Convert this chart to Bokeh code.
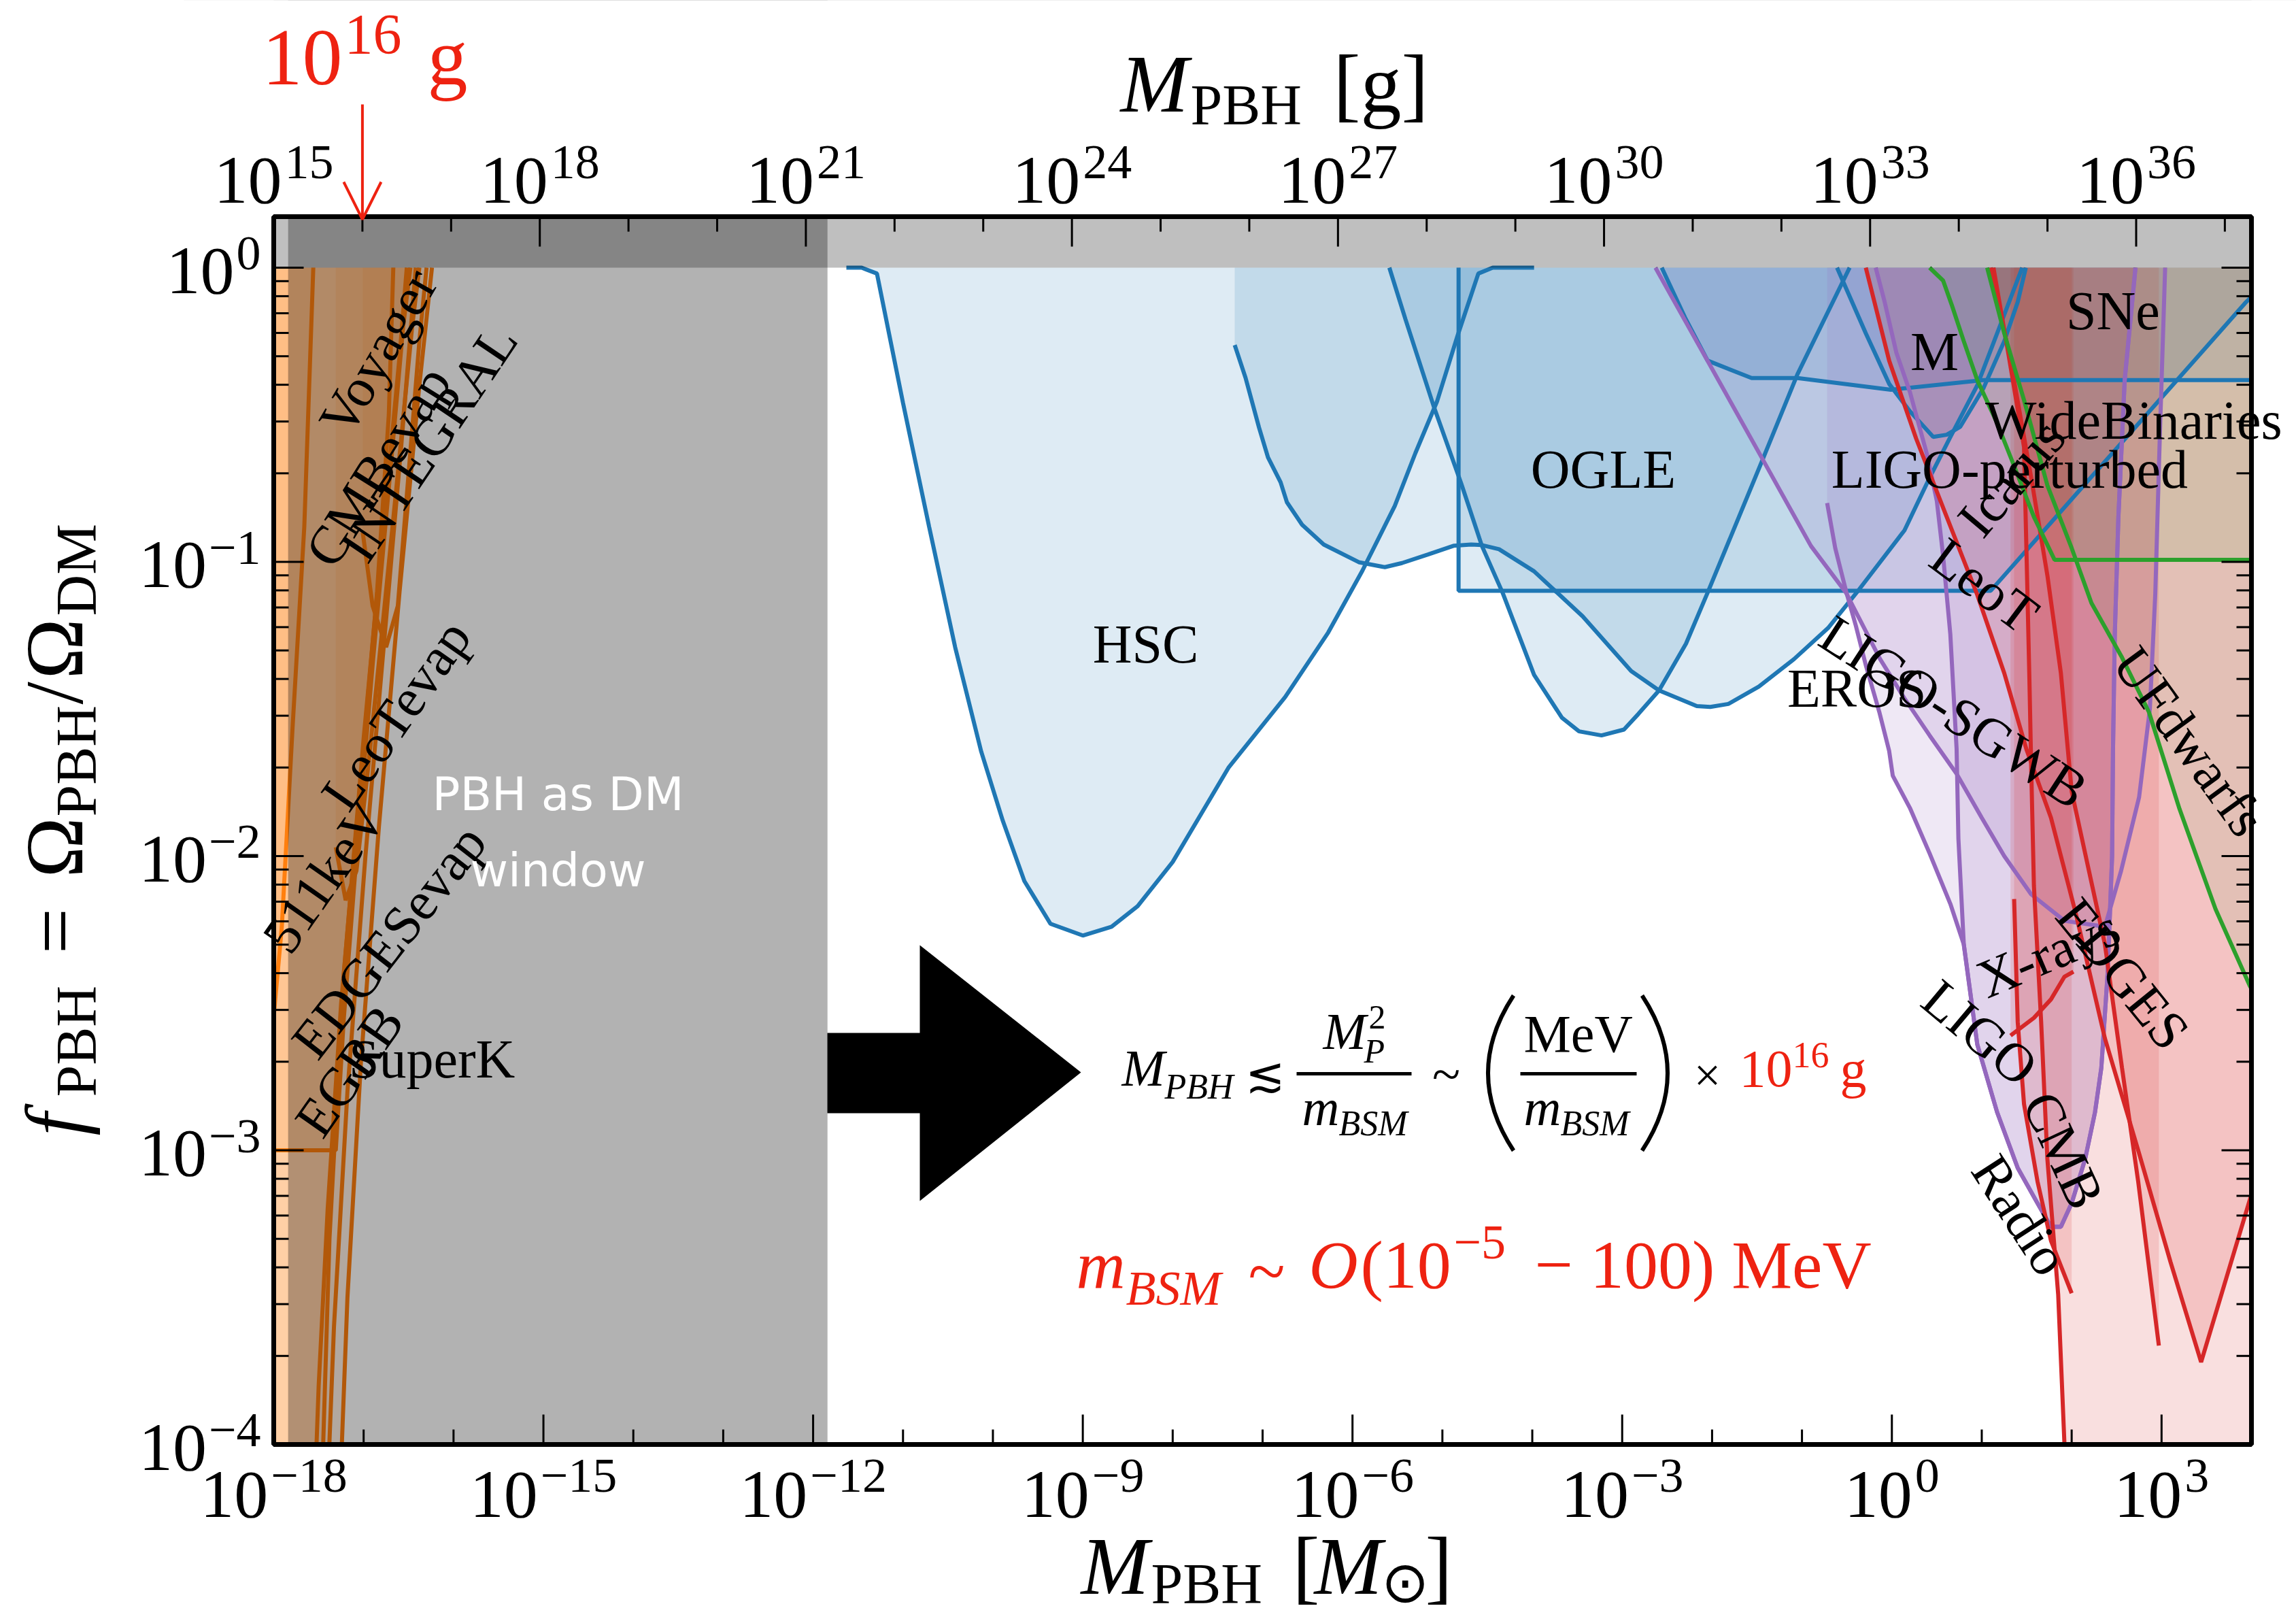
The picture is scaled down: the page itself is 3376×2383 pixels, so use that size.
import numpy as np
from bokeh.plotting import figure
from bokeh.models import Range1d, LogScale, Label, Arrow, OpenHead
from bokeh.embed import file_html
from bokeh.resources import INLINE

# ------------------------------------------------------------------
# Axis ranges of the plotting box (log10 values)
LOGM_MIN, LOGM_MAX = -18.0, 4.0        # M_PBH / M_sun (bottom axis)
LOGF_MIN, LOGF_MAX = -4.0, 0.1734      # f_PBH
LOGG_MIN, LOGG_MAX = 15.0, 37.30       # M_PBH in grams (top axis)

X_MAJOR = [-18, -15, -12, -9, -6, -3, 0, 3]
G_MAJOR = [15, 18, 21, 24, 27, 30, 33, 36]
Y_MAJOR = [0, -1, -2, -3, -4]

# shaded "PBH as DM" window, log10(M/Msun)
WINDOW_LO, WINDOW_HI = -17.84, -11.84

# ------------------------------------------------------------------
# Constraint curves: log10(M/Msun) and log10(f_PBH); region above is excluded
# evaporation
E511_M = [-18.5, -18.05, -17.99, -17.91, -17.79, -17.66, -17.56]
E511_F = [-3.1, -2.72, -2.51, -2.24, -1.56, -0.88, 0.0]
SUPERK_M = [-18.5, -17.56, -17.5, -17.4, -17.25, -17.05, -16.85, -16.72, -16.67]
SUPERK_F = [-4.3, -4.3, -3.8, -3.2, -2.5, -1.8, -1.1, -0.5, 0.0]
EDGESEV_M = [-18.5, -17.42, -17.33, -17.18, -16.98, -16.78, -16.58, -16.42]
EDGESEV_F = [-4.3, -4.3, -3.6, -2.8, -2.0, -1.3, -0.6, 0.0]
VOYAGER_M = [-18.5, -17.28, -17.18, -17.03, -16.83, -16.6, -16.38, -16.24]
VOYAGER_F = [-4.3, -4.3, -3.5, -2.7, -1.9, -1.1, -0.4, 0.0]
CMBEV_M = [-18.5, -17.48, -17.38, -17.22, -17.0, -16.8, -16.6, -16.52]
CMBEV_F = [-4.3, -4.3, -3.3, -2.4, -1.6, -0.95, -0.3, 0.0]
EGRB_M = [-18.5, -17.31, -17.22, -17.08, -16.9, -16.72, -16.56, -16.48]
EGRB_F = [-3.0, -3.0, -2.55, -2.0, -1.35, -0.75, -0.2, 0.0]
INTEGRAL_M = [-17.01, -16.9, -16.75, -16.62, -16.5, -16.38, -16.3]
INTEGRAL_F = [-0.9, -1.15, -1.29, -1.15, -0.7, -0.25, 0.0]
LEOTEV_M = [-17.31, -17.2, -17.08, -16.95, -16.8, -16.62, -16.46, -16.38]
LEOTEV_F = [-1.97, -2.15, -2.05, -1.7, -1.25, -0.7, -0.2, 0.0]

# microlensing
HSC_M = [-11.63, -11.46, -11.29, -11.00, -10.71, -10.42, -10.13, -9.89, -9.65, -9.36, -9.00, -8.68,
         -8.39, -8.00, -7.38, -6.75, -6.27, -5.89, -5.53, -5.30, -5.06, -4.83, -4.60, -4.44, -3.98]
HSC_F = [0.00, 0.00, -0.02, -0.46, -0.88, -1.29, -1.645, -1.88, -2.085, -2.23, -2.27, -2.24,
         -2.17, -2.02, -1.70, -1.46, -1.24, -1.03, -0.81, -0.63, -0.455, -0.23, -0.02, 0.00, 0.00]
EROS_M = [-7.31, -7.19, -7.04, -6.94, -6.80, -6.73, -6.56, -6.32, -5.93, -5.64, -5.45, -5.16, -4.87,
          -4.68, -4.56, -4.37, -3.98, -3.44, -2.90, -2.59, -2.17, -2.02, -1.82, -1.48, -1.09, -0.71,
          -0.36, 0.14, 0.42, 0.64, 0.95, 1.20, 1.45]
EROS_F = [-0.263, -0.374, -0.543, -0.645, -0.729, -0.797, -0.874, -0.941, -1.001, -1.018, -1.004,
          -0.975, -0.945, -0.941, -0.943, -0.957, -1.032, -1.185, -1.371, -1.437, -1.490, -1.493,
          -1.483, -1.424, -1.331, -1.225, -1.092, -0.893, -0.714, -0.582, -0.40, -0.20, 0.00]
OGLE_M = [-5.59, -5.41, -5.10, -4.79, -4.56, -4.33, -3.98, -3.67, -3.48, -3.23, -2.98, -2.82, -2.59,
          -2.29, -2.05, -1.44, -1.05, -0.47]
OGLE_F = [0.00, -0.176, -0.468, -0.734, -0.946, -1.105, -1.384, -1.530, -1.576, -1.590, -1.570,
          -1.517, -1.437, -1.278, -1.105, -0.654, -0.362, 0.00]
ICARUS_M = [-4.82, -4.82, 1.10, 3.94, 4.30]
ICARUS_F = [0.00, -1.098, -1.098, -0.117, -0.01]
SNE_M = [-2.56, -2.30, -2.05, -1.56, -1.05, -0.01, 1.02, 4.30]
SNE_F = [0.00, -0.17, -0.316, -0.375, -0.375, -0.415, -0.382, -0.382]
MACHO_M = [-0.61, -0.29, -0.03, 0.20, 0.46, 0.61, 0.76, 1.02, 1.25, 1.40, 1.49]
MACHO_F = [0.00, -0.223, -0.395, -0.488, -0.575, -0.568, -0.541, -0.409, -0.25, -0.117, 0.00]

# gravitational waves
SGWB_M = [-2.63, -1.48, -0.90, -0.51, -0.13, 0.14, 0.42, 0.72, 1.00, 1.25, 1.55, 1.92, 2.37, 2.55,
          2.75, 2.87, 2.93, 2.98, 3.04]
SGWB_F = [0.00, -0.628, -0.946, -1.105, -1.331, -1.464, -1.59, -1.72, -1.87, -2.00, -2.13, -2.22,
          -2.24, -2.05, -1.80, -1.50, -1.11, -0.58, 0.00]
LIGOP_M = [-0.72, -0.63, -0.51, -0.40, -0.29, -0.14, -0.03, 0.01, 0.20, 0.42, 0.65, 0.80, 0.95, 1.17,
           1.40, 1.62, 1.77, 1.88, 2.00, 2.15, 2.26, 2.33, 2.40, 2.45, 2.46, 2.48, 2.52, 2.59, 2.71]
LIGOP_F = [-0.80, -0.953, -1.099, -1.218, -1.351, -1.51, -1.643, -1.727, -1.836, -1.991, -2.162,
           -2.30, -2.64, -2.87, -3.06, -3.18, -3.26, -3.26, -3.18, -3.03, -2.87, -2.72, -2.40, -2.00,
           -1.635, -1.245, -0.847, -0.382, 0.00]
LIGO_M = [-0.18, -0.08, 0.05, 0.20, 0.39, 0.50, 0.57, 0.65, 0.72, 0.74, 0.80, 0.95, 1.17, 1.40, 1.62,
          1.77, 1.88, 2.00, 2.15, 2.26, 2.33, 2.40, 2.45, 2.46, 2.48, 2.52, 2.59, 2.71]
LIGO_F = [0.00, -0.117, -0.289, -0.422, -0.634, -0.793, -0.979, -1.245, -1.635, -1.94, -2.30, -2.64,
          -2.87, -3.06, -3.18, -3.26, -3.26, -3.18, -3.03, -2.87, -2.72, -2.40, -2.00, -1.635, -1.245,
          -0.847, -0.382, 0.00]

# accretion
LEOT_M = [-0.29, -0.03, 0.27, 0.61, 0.95, 1.25, 1.50, 1.77, 2.05, 2.37, 2.74, 3.10, 3.44, 3.98, 4.30]
LEOT_F = [0.00, -0.316, -0.581, -0.847, -1.112, -1.378, -1.64, -1.87, -2.20, -2.62, -3.00, -3.38,
          -3.72, -3.17, -2.85]
CMB_M = [1.13, 1.30, 1.47, 1.50, 1.53, 1.55, 1.58, 1.66, 1.73, 1.85, 1.92, 1.97, 4.30]
CMB_F = [0.00, -0.30, -0.61, -1.00, -1.40, -1.70, -2.10, -2.56, -3.03, -3.49, -4.00, -4.40, -4.40]
EDGES_M = [1.10, 1.32, 1.55, 1.73, 1.88, 2.00, 2.37, 2.56, 2.74, 2.97]
EDGES_F = [0.00, -0.316, -0.714, -1.046, -1.378, -1.78, -2.30, -2.72, -3.106, -3.664]
RADIO_M = [1.36, 1.40, 1.47, 1.62, 1.77, 2.00]
RADIO_F = [-2.146, -2.564, -2.843, -3.106, -3.308, -3.486]
XRAY_M = [1.32, 1.58, 1.77, 1.92, 2.02]
XRAY_F = [-2.61, -2.55, -2.487, -2.41, -2.393]

# dynamical
WB_M = [0.42, 0.57, 0.67, 0.80, 0.95, 1.17, 1.36, 1.58, 1.81, 4.30]
WB_F = [0.00, -0.044, -0.130, -0.25, -0.382, -0.528, -0.674, -0.847, -0.993, -0.993]
UFD_M = [1.06, 1.25, 1.47, 1.73, 2.00, 2.22, 2.56, 2.86, 3.20, 3.60, 3.98, 4.30]
UFD_F = [0.00, -0.223, -0.45, -0.74, -0.953, -1.14, -1.325, -1.511, -1.84, -2.18, -2.44, -2.62]

# labels: text, log10 M, log10 f, rotation (deg)
CONSTRAINT_LABELS = [
    ("Voyager", -16.84, -0.286, 60), ("CMBevap", -16.84, -0.675, 58),
    ("INTEGRAL", -16.28, -0.595, 56), ("LeoTevap", -16.64, -1.52, 55),
    ("511keV", -17.44, -2.07, 55), ("EDGESevap", -16.72, -2.29, 52),
    ("EGRB", -17.16, -2.73, 55), ("SuperK", -16.24, -2.69, 0),
    ("HSC", -8.30, -1.28, 0), ("OGLE", -3.21, -0.685, 0), ("EROS", -0.39, -1.43, 0),
    ("M", 0.475, -0.286, 0), ("LIGO-perturbed", 1.31, -0.685, 0), ("SNe", 2.46, -0.147, 0),
    ("WideBinaries", 2.69, -0.52, 0), ("Icarus", 1.33, -0.714, 50), ("LeoT", 1.03, -1.08, -37),
    ("LIGO-SGWB", 0.69, -1.51, -33), ("UFdwarfs", 3.31, -1.61, -54), ("X-rays", 1.74, -2.33, 23),
    ("EDGES", 2.57, -2.40, -51), ("LIGO", 0.98, -2.60, -40), ("CMB", 1.91, -3.0, -65),
    ("Radio", 1.43, -3.22, -57),
]

BLUE, ORANGE, GREEN, RED, PURPLE = "#1f77b4", "#ff7f0e", "#2ca02c", "#d62728", "#9467bd"
GROUPS = [
    (ORANGE, 0.11, [(E511_M, E511_F), (SUPERK_M, SUPERK_F), (EDGESEV_M, EDGESEV_F),
                    (VOYAGER_M, VOYAGER_F), (CMBEV_M, CMBEV_F), (EGRB_M, EGRB_F),
                    (INTEGRAL_M, INTEGRAL_F), (LEOTEV_M, LEOTEV_F)]),
    (BLUE, 0.15, [(HSC_M, HSC_F), (EROS_M, EROS_F), (OGLE_M, OGLE_F), (ICARUS_M, ICARUS_F),
                  (SNE_M, SNE_F), (MACHO_M, MACHO_F)]),
    (PURPLE, 0.15, [(SGWB_M, SGWB_F), (LIGOP_M, LIGOP_F), (LIGO_M, LIGO_F)]),
    (RED, 0.15, [(LEOT_M, LEOT_F), (CMB_M, CMB_F), (EDGES_M, EDGES_F), (RADIO_M, RADIO_F),
                 (XRAY_M, XRAY_F)]),
    (GREEN, 0.08, [(WB_M, WB_F), (UFD_M, UFD_F)]),
]

# ------------------------------------------------------------------
# Page geometry: the plotting box sits inside the canvas at these pixels
W, H = 3376, 2383
L, R, T, B = 402, 3310, 318, 2123
PX_X = (R - L) / (LOGM_MAX - LOGM_MIN)
PX_Y = (B - T) / (LOGF_MAX - LOGF_MIN)
PX_G = (R - L) / (LOGG_MAX - LOGG_MIN)
X_LEFT, X_RIGHT = LOGM_MIN - L / PX_X, LOGM_MAX + (W - R) / PX_X
Y_BOT, Y_TOP = LOGF_MIN - (H - B) / PX_Y, LOGF_MAX + T / PX_Y
G_LEFT, G_RIGHT = LOGG_MIN - L / PX_G, LOGG_MAX + (W - R) / PX_G

SERIF, SANS = "Liberation Serif", "DejaVu Sans"
RED_TXT = "#ee2211"

p = figure(width=W, height=H, x_axis_type="log", y_axis_type="log",
           x_range=Range1d(10 ** X_LEFT, 10 ** X_RIGHT),
           y_range=Range1d(10 ** Y_BOT, 10 ** Y_TOP),
           x_axis_location=None, y_axis_location=None,
           output_backend="svg", toolbar_location=None,
           min_border=0, min_border_left=0, min_border_right=0,
           min_border_top=0, min_border_bottom=0)
p.extra_x_ranges = {"grams": Range1d(10 ** G_LEFT, 10 ** G_RIGHT)}
p.extra_x_scales = {"grams": LogScale()}
p.xgrid.visible = False
p.ygrid.visible = False
p.outline_line_color = None
p.background_fill_color = "white"
p.border_fill_color = "white"

# constraint fills (closed along f = 1) and boundary curves
for color, alpha, curves in GROUPS:
    for lm, lf in curves:
        xs = list(lm) + [lm[-1], lm[0]]
        ys = list(lf) + [0.0, 0.0]
        p.patch(10.0 ** np.array(xs), 10.0 ** np.array(ys), fill_color=color,
                fill_alpha=alpha, line_color=None)
for color, alpha, curves in GROUPS:
    for lm, lf in curves:
        p.line(10.0 ** np.array(lm), 10.0 ** np.array(lf), line_color=color, line_width=6)

# PBH-as-DM window and the f > 1 band
p.quad(left=10 ** WINDOW_LO, right=10 ** WINDOW_HI, bottom=1e-5, top=10.0,
       fill_color="black", fill_alpha=0.30, line_color=None)
p.quad(left=1e-19, right=1e5, bottom=1.0, top=10.0,
       fill_color="black", fill_alpha=0.25, line_color=None)

# white margins around the plotting box
far_l, far_r, far_b, far_t = 10 ** (X_LEFT - 1), 10 ** (X_RIGHT + 1), 10 ** (Y_BOT - 1), 10 ** (Y_TOP + 1)
p.quad(left=[far_l, 10 ** LOGM_MAX, far_l, far_l],
       right=[10 ** LOGM_MIN, far_r, far_r, far_r],
       bottom=[far_b, far_b, far_b, 10 ** LOGF_MAX],
       top=[far_t, far_t, 10 ** LOGF_MIN, far_t],
       fill_color="white", line_color=None)

# box outline
p.quad(left=10 ** LOGM_MIN, right=10 ** LOGM_MAX, bottom=10 ** LOGF_MIN, top=10 ** LOGF_MAX,
       fill_color=None, line_color="black", line_width=7)

# inward ticks on all four sides
MAJ, MIN_ = 44, 22
bx_maj = [10.0 ** k for k in X_MAJOR]
bx_min = [10.0 ** k for k in range(-18, 5) if k not in X_MAJOR]
gx_maj = [10.0 ** k for k in G_MAJOR]
gx_min = [10.0 ** k for k in range(15, 38) if k not in G_MAJOR]
y_maj = [10.0 ** k for k in Y_MAJOR]
y_min = [m * 10.0 ** k for k in range(-4, 0) for m in range(2, 10)]
for ticks, ln in [(bx_maj, MAJ), (bx_min, MIN_)]:
    p.segment(x0=ticks, x1=ticks, y0=10 ** LOGF_MIN, y1=10 ** (LOGF_MIN + ln / PX_Y),
              line_color="black", line_width=3)
for ticks, ln in [(gx_maj, MAJ), (gx_min, MIN_)]:
    p.segment(x0=ticks, x1=ticks, y0=10 ** LOGF_MAX, y1=10 ** (LOGF_MAX - ln / PX_Y),
              line_color="black", line_width=3, x_range_name="grams")
for ticks, ln in [(y_maj, MAJ), (y_min, MIN_)]:
    p.segment(x0=10 ** LOGM_MIN, x1=10 ** (LOGM_MIN + ln / PX_X), y0=ticks, y1=ticks,
              line_color="black", line_width=3)
    p.segment(x0=10 ** LOGM_MAX, x1=10 ** (LOGM_MAX - ln / PX_X), y0=ticks, y1=ticks,
              line_color="black", line_width=3)


# ------------------------------------------------------------------
def to_data(cx, cy):
    lx = LOGM_MIN + (cx - L) / PX_X
    ly = LOGF_MAX - (cy - T) / PX_Y
    return 10.0 ** lx, 10.0 ** ly


BASE_SHIFT = 0.33   # alphabetic anchor sits this many em below the glyph baseline


def put(text, cx, cy, size, color="black", style="normal", align="left",
        baseline="alphabetic", angle=0, font=SERIF):
    if baseline == "alphabetic":
        th = np.radians(angle)
        cx -= BASE_SHIFT * size * np.sin(th)
        cy -= BASE_SHIFT * size * np.cos(th)
    x, y = to_data(cx, cy)
    p.add_layout(Label(x=x, y=y, text=text, text_font=font, text_font_size=f"{size}px",
                       text_color=color, text_font_style=style, text_align=align,
                       text_baseline=baseline, angle=angle, angle_units="deg"))


def num_width(s, size):
    return size * sum(0.564 if ch == "\u2212" else 0.5 for ch in s)


def sup(k):
    return str(k).replace("-", "\u2212")


# tick labels
for k in X_MAJOR:
    cx = L + (k - LOGM_MIN) * PX_X
    ex = sup(k)
    j = cx + (num_width("10", 100) - num_width(ex, 72)) / 2
    put("10", j - 2, 2230, 100, align="right")
    put(ex, j + 2, 2193, 72)
for k in G_MAJOR:
    cx = L + (k - LOGG_MIN) * PX_G
    ex = sup(k)
    j = cx + (num_width("10", 100) - num_width(ex, 72)) / 2
    put("10", j - 2, 298, 100, align="right")
    put(ex, j + 2, 262, 72)
for k in Y_MAJOR:
    cy = T + (LOGF_MAX - k) * PX_Y
    ex = sup(k)
    put(ex, L - 19, cy + 3, 72, align="right")
    put("10", L - 22 - num_width(ex, 72), cy + 38, 100, align="right")

# axis titles
put("M", 1589, 2342, 120, style="italic")
put("PBH", 1692, 2356, 84)
put("[", 1900, 2342, 120)
put("M", 1932, 2342, 120, style="italic")
put("\u2299", 2030, 2354, 84)
put("]", 2095, 2342, 120)

put("M", 1647, 163, 120, style="italic")
put("PBH", 1750, 182, 84)
put("[g]", 1960, 163, 120)

put("f", 120, 1669, 120, style="italic", angle=90)
put("PBH", 140, 1612, 84, angle=90)
put("=", 120, 1402, 120, angle=90)
put("\u03a9", 120, 1290, 120, angle=90)
put("PBH", 140, 1200, 84, angle=90)
put("/", 120, 1035, 120, angle=90)
put("\u03a9", 120, 998, 120, angle=90)
put("DM", 140, 905, 84, angle=90)

# constraint names
for text, lm, lf, ang in CONSTRAINT_LABELS:
    p.add_layout(Label(x=10.0 ** lm, y=10.0 ** lf, text=text, text_font=SERIF,
                       text_font_size="80px", text_color="black", text_align="center",
                       text_baseline="middle", angle=ang, angle_units="deg"))

# window caption
put("PBH as DM", 820, 1167, 68, color="white", align="center", baseline="middle", font=SANS)
put("window", 820, 1279, 68, color="white", align="center", baseline="middle", font=SANS)

# 10^16 g marker on the gram axis
gx = L + (16 - LOGG_MIN) * PX_G
put("10", 385, 123, 118, color=RED_TXT)
put("16", 506, 78, 84, color=RED_TXT)
put("g", 628, 123, 118, color=RED_TXT)
xs0, ys0 = to_data(gx, 153)
xs1, ys1 = to_data(gx, 322)
p.add_layout(Arrow(x_start=xs0, y_start=ys0, x_end=xs1, y_end=ys1, line_color=RED_TXT,
                   line_width=4, end=OpenHead(size=55, line_color=RED_TXT, line_width=4)))

# block arrow pointing into the mass range
arrow_px = [(1216, 1518), (1352, 1518), (1352, 1389), (1589, 1576), (1352, 1765), (1352, 1636),
            (1216, 1636)]
ax_, ay_ = zip(*[to_data(cx, cy) for cx, cy in arrow_px])
p.patch(list(ax_), list(ay_), fill_color="black", line_color=None)

# mass relation
put("M", 1649, 1595, 76, style="italic")
put("PBH", 1712, 1614, 52, style="italic")
put("\u2272", 1860, 1580, 70, align="center", baseline="middle")
put("M", 1945, 1541, 76, style="italic")
put("2", 2012, 1511, 50)
put("P", 2005, 1561, 50, style="italic")
put("m", 1914, 1653, 76, style="italic")
put("BSM", 1968, 1668, 52, style="italic")
put("~", 2126, 1578, 76, align="center", baseline="middle")
put("MeV", 2240, 1545, 78)
put("m", 2240, 1653, 76, style="italic")
put("BSM", 2294, 1668, 52, style="italic")
put("\u00d7", 2510, 1580, 70, align="center", baseline="middle")
put("10", 2557, 1597, 78, color=RED_TXT)
put("16", 2635, 1568, 54, color=RED_TXT)
put("g", 2705, 1597, 78, color=RED_TXT)
for x0, x1 in [(1906, 2075), (2235, 2406)]:
    a, yb = to_data(x0, 1578)
    b, _ = to_data(x1, 1578)
    p.line([a, b], [yb, yb], line_color="black", line_width=5)
for xe, xc in [(2225, 2150), (2414, 2489)]:
    x0, y0 = to_data(xe, 1463)
    x1, y1 = to_data(xe, 1691)
    cxp, cyp = to_data(xc, 1577)
    p.quadratic(x0=x0, y0=y0, x1=x1, y1=y1, cx=cxp, cy=cyp, line_color="black", line_width=6)

# BSM mass range
put("m", 1582, 1892, 100, color=RED_TXT, style="italic")
put("BSM", 1655, 1917, 72, color=RED_TXT, style="italic")
put("~", 1862, 1868, 100, color=RED_TXT, align="center", baseline="middle")
put("O", 1924, 1892, 100, color=RED_TXT, style="italic")
put("(10", 2000, 1892, 100, color=RED_TXT)
put("\u22125", 2137, 1850, 72, color=RED_TXT)
put("\u2212 100) MeV", 2256, 1892, 100, color=RED_TXT)

open("out.html", "w").write(file_html(p, INLINE))
